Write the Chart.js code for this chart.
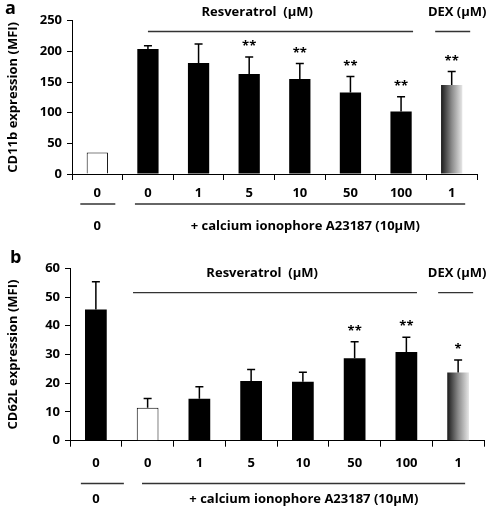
<!DOCTYPE html>
<html>
<head>
<meta charset="utf-8">
<script src="https://cdn.jsdelivr.net/npm/chart.js@4.4.0/dist/chart.umd.min.js"></script>
<style>
  html, body { margin: 0; padding: 0; background: #fff; }
  #wrap { position: relative; width: 495px; height: 509px; }
  canvas { position: absolute; left: 0; }
  #chartA { top: 0; }
  #chartB { top: 250px; }
</style>
</head>
<body>
<div id="wrap">
  <canvas id="chartA" width="495" height="250"></canvas>
  <canvas id="chartB" width="495" height="259"></canvas>
</div>
<script>
// doses under each bar (control, then A23187 + resveratrol, then DEX)
const doseLabels = ['0', '0', '1', '5', '10', '50', '100', '1'];

// panel a - CD11b
const cd11bMeans  = [35, 204, 181, 163, 155, 133, 102, 145];
const cd11bErrors = [0, 5, 31, 28, 25, 26, 24, 22];
const cd11bStars  = ['', '', '', '**', '**', '**', '**', '**'];
const cd11bTicks  = [0, 50, 100, 150, 200, 250];

// panel b - CD62L
const cd62lMeans  = [45.7, 11.5, 14.6, 20.8, 20.5, 28.7, 30.9, 23.7];
const cd62lErrors = [9.6, 3.2, 4.2, 4.0, 3.3, 5.7, 5.1, 4.4];
const cd62lStars  = ['', '', '', '', '', '**', '**', '*'];
const cd62lTicks  = [0, 10, 20, 30, 40, 50, 60];

const FONT = '"Open Sans", "Liberation Sans", sans-serif';
const FS = 13;
const LINE_GREY = '#333';

function barFill(ctx, whiteIndex, dexIndex) {
    const i = ctx.dataIndex;
    if (i === whiteIndex) return '#ffffff';
    if (i !== dexIndex) return '#000000';
    const chart = ctx.chart;
    const xs = chart.scales.x;
    if (!xs) return '#888';
    const cw = (xs.right - xs.left) / doseLabels.length;
    const cx = xs.getPixelForValue(i);
    const g = chart.ctx.createLinearGradient(cx - cw * 0.21, 0, cx + cw * 0.21, 0);
    g.addColorStop(0, '#1a1a1a');
    g.addColorStop(0.5, '#8a8a8a');
    g.addColorStop(1, '#e6e6e6');
    return g;
}

function buildPanel(id, p) {
    const canvas = document.getElementById(id);
    const H = canvas.height;

    // error bars + significance stars
    const errorPlugin = {
        id: 'errs',
        afterDatasetsDraw(chart) {
            const c = chart.ctx, xs = chart.scales.x, ys = chart.scales.y;
            c.save();
            c.strokeStyle = '#000';
            c.lineWidth = 1.5;
            p.means.forEach((m, i) => {
                const cx = xs.getPixelForValue(i);
                const yTop = ys.getPixelForValue(m + p.errors[i]);
                const yBar = ys.getPixelForValue(m);
                if (p.errors[i] > 0) {
                    c.beginPath();
                    c.moveTo(cx, yBar);
                    c.lineTo(cx, yTop);
                    c.moveTo(cx - 4, yTop);
                    c.lineTo(cx + 4, yTop);
                    c.stroke();
                }
                if (p.stars[i]) {
                    c.fillStyle = '#000';
                    c.font = 'bold 13px ' + FONT;
                    c.textAlign = 'center';
                    c.textBaseline = 'alphabetic';
                    c.fillText(p.stars[i], cx, yTop - p.starGap);
                }
            });
            c.restore();
        }
    };

    // brackets, group labels and panel letter
    const annotPlugin = {
        id: 'annot',
        afterDraw(chart) {
            const c = chart.ctx, xs = chart.scales.x;
            const ctr = i => xs.getPixelForValue(i);
            const a = p.annot;
            c.save();
            c.strokeStyle = LINE_GREY;
            c.lineWidth = 1.3;
            const hline = (x1, x2, y) => {
                c.beginPath(); c.moveTo(x1, y); c.lineTo(x2, y); c.stroke();
            };
            hline(ctr(1) + a.resvLine[0], ctr(6) + a.resvLine[1], a.topLineY);
            hline(ctr(7) + a.dexLine[0], ctr(7) + a.dexLine[1], a.topLineY);
            hline(ctr(0) + a.ctrlLine[0], ctr(0) + a.ctrlLine[1], a.botLineY);
            hline(ctr(1) + a.ionoLine[0], ctr(7) + a.ionoLine[1], a.botLineY);

            c.fillStyle = '#000';
            c.textAlign = 'center';
            c.textBaseline = 'middle';
            c.font = 'bold ' + FS + 'px ' + FONT;
            c.fillText('Resveratrol  (\u00b5M)', ctr(3) + a.resvText, a.topTextY);
            c.fillText('DEX (\u00b5M)', ctr(7) + a.dexText, a.topTextY);
            c.fillText('0', ctr(0), a.botTextY);
            c.fillText('+ calcium ionophore A23187 (10\u00b5M)', ctr(4) + a.ionoText, a.botTextY);

            c.textAlign = 'left';
            c.textBaseline = 'alphabetic';
            c.font = 'bold 18px ' + FONT;
            c.fillText(p.letter, a.letterX, a.letterY);
            c.restore();
        }
    };

    return new Chart(canvas, {
        type: 'bar',
        data: {
            labels: doseLabels,
            datasets: [{
                data: p.means,
                backgroundColor: ctx => barFill(ctx, p.whiteIndex, doseLabels.length - 1),
                borderColor: '#000',
                borderWidth: p.means.map((_, i) => (i === p.whiteIndex ? 1 : 0)),
                barPercentage: 0.42,
                categoryPercentage: 1.0
            }]
        },
        options: {
            responsive: false,
            animation: false,
            devicePixelRatio: 1,
            layout: { padding: { top: p.top, right: p.right, left: 0, bottom: 0 } },
            plugins: { legend: { display: false }, tooltip: { enabled: false } },
            scales: {
                x: {
                    grid: { display: true, drawOnChartArea: false, offset: true, tickLength: 6, color: '#000' },
                    border: { color: '#000', width: 1 },
                    ticks: { color: '#000', padding: p.xTickPad, font: { family: FONT, size: 13, weight: 'bold' } },
                    afterFit(scale) { scale.height = H - p.bottom; }
                },
                y: {
                    min: p.ticks[0],
                    max: p.ticks[p.ticks.length - 1],
                    grid: { display: true, drawOnChartArea: false, tickLength: 5, color: '#000' },
                    border: { color: '#000', width: 1 },
                    ticks: {
                        stepSize: p.ticks[1] - p.ticks[0],
                        color: '#000',
                        padding: 5,
                        font: { family: FONT, size: 13, weight: 'bold' }
                    },
                    title: {
                        display: true,
                        text: p.yTitle,
                        color: '#000',
                        padding: { top: 5, bottom: 0 },
                        font: { family: FONT, size: 13, weight: 'bold' }
                    },
                    afterFit(scale) { scale.width = p.left; }
                }
            }
        },
        plugins: [errorPlugin, annotPlugin]
    });
}

buildPanel('chartA', {
    letter: 'a',
    means: cd11bMeans, errors: cd11bErrors, stars: cd11bStars, ticks: cd11bTicks,
    yTitle: 'CD11b expression (MFI)',
    whiteIndex: 0,
    left: 72, right: 18, top: 20.7, bottom: 174,
    xTickPad: 5, starGap: 7,
    annot: {
        topLineY: 31.5, topTextY: 12,
        botLineY: 204, botTextY: 226,
        resvLine: [0, 12], dexLine: [-16.5, 18.5],
        ctrlLine: [-17, 18], ionoLine: [-13, 13.5],
        resvText: 8, dexText: 5.5, ionoText: 5.5,
        letterX: 5, letterY: 14
    }
});

buildPanel('chartB', {
    letter: 'b',
    means: cd62lMeans, errors: cd62lErrors, stars: cd62lStars, ticks: cd62lTicks,
    yTitle: 'CD62L expression (MFI)',
    whiteIndex: 1,
    left: 70, right: 11, top: 18.3, bottom: 190.7,
    xTickPad: 9, starGap: 7,
    annot: {
        topLineY: 42.7, topTextY: 23,
        botLineY: 233.5, botTextY: 249,
        resvLine: [-14.6, 10.6], dexLine: [-20, 15],
        ctrlLine: [-15, 28], ionoLine: [-5.6, 7],
        resvText: 11, dexText: -1, ionoText: 1,
        letterX: 10, letterY: 13
    }
});
</script>
</body>
</html>
